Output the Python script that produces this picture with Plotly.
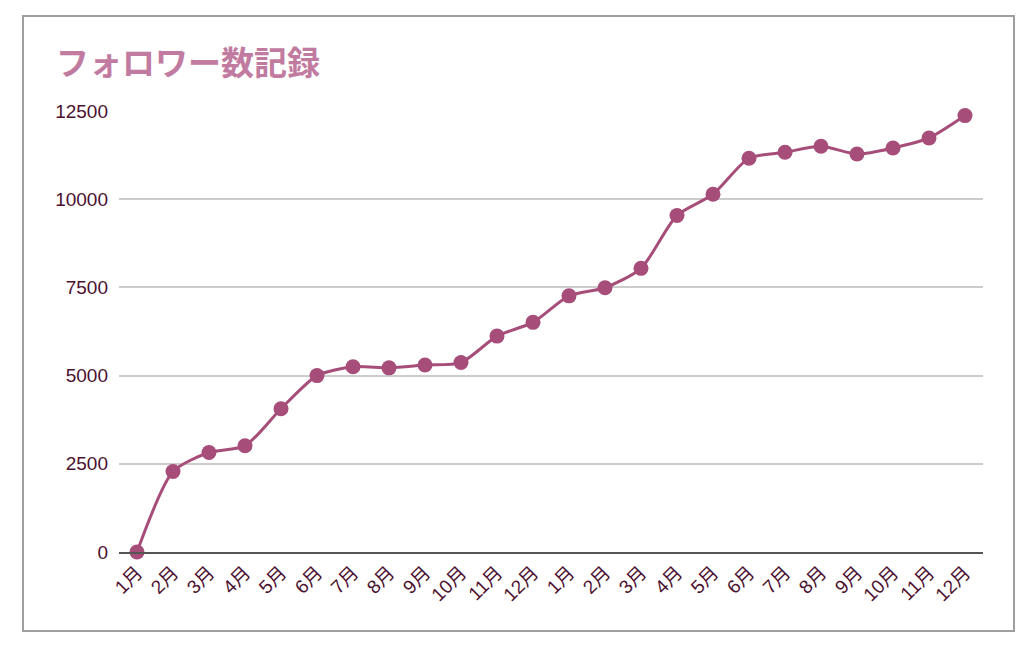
import plotly.graph_objects as go

months = ["1月", "2月", "3月", "4月", "5月", "6月", "7月", "8月", "9月", "10月", "11月", "12月"]
month_labels = months + months
followers = [0, 2280, 2820, 3010, 4060, 5000, 5250, 5220, 5300, 5370, 6120, 6510,
             7260, 7490, 8040, 9540, 10140, 11160, 11330, 11500, 11280, 11450, 11735, 12370]
y_ticks = [0, 2500, 5000, 7500, 10000, 12500]
y_tick_labels = [str(v) for v in y_ticks]

x_idx = list(range(len(month_labels)))

LINE = "#a64d79"
TITLE = "#c27ba0"
TEXT = "#4c1130"
FONT = "Liberation Sans, Arial, Noto Sans CJK JP, sans-serif"

# page body has an 8px margin; offsets below are in figure coordinates
OFF = 8
W, H = 1034, 646
L, R, T, B = 119 - OFF, 51 + OFF, 111 - OFF, 94 + OFF
pw, ph = W - L - R, H - T - B

def fx(px):
    return (px - OFF - L) / pw

def fy(py):
    return (H - B - (py - OFF)) / ph

fig = go.Figure()
fig.add_trace(go.Scatter(
    x=x_idx, y=followers, mode="lines+markers",
    line=dict(color=LINE, width=3, shape="spline", smoothing=0.7),
    marker=dict(color=LINE, size=15),
    cliponaxis=False, showlegend=False,
))

fig.add_shape(type="rect", xref="paper", yref="paper",
              x0=fx(23), x1=fx(1014), y0=fy(631), y1=fy(16),
              line=dict(color="#9e9e9e", width=2), fillcolor="rgba(0,0,0,0)", layer="below")

fig.update_layout(
    width=W, height=H,
    margin=dict(l=L, r=R, t=T, b=B),
    paper_bgcolor="white", plot_bgcolor="white",
    font=dict(family=FONT, color=TEXT, size=18),
    title=dict(text="<b>フォロワー数記録</b>", x=(56 - OFF) / W, xanchor="left",
               y=1 - (63 - OFF) / H, yanchor="middle",
               font=dict(size=33, color=TITLE, family=FONT)),
    xaxis=dict(
        range=[-0.5, len(month_labels) - 0.5],
        tickmode="array", tickvals=x_idx, ticktext=month_labels,
        tickangle=-45, tickfont=dict(size=19, color=TEXT),
        showgrid=False, zeroline=False,
        showline=True, linecolor="#555555", linewidth=2,
        ticks="", fixedrange=True,
    ),
    yaxis=dict(
        range=[0, 12500],
        tickmode="array", tickvals=y_ticks, ticktext=y_tick_labels,
        tickfont=dict(size=19, color=TEXT),
        showgrid=True, gridcolor="#cccccc", gridwidth=1.5,
        zeroline=False, showline=False, ticks="", ticklabelstandoff=10,
    ),
)

fig.write_html("out.html")
